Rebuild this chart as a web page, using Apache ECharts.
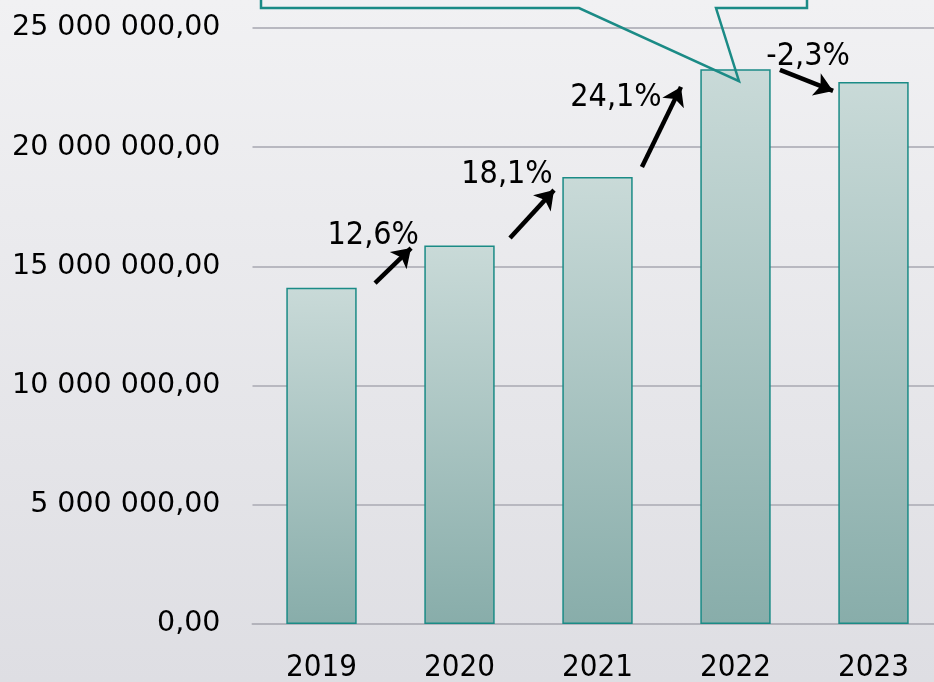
<!DOCTYPE html>
<html>
<head>
<meta charset="utf-8">
<script src="https://cdn.jsdelivr.net/npm/echarts@6/dist/echarts.min.js"></script>
<style>
  html, body { margin: 0; padding: 0; }
  #chart { width: 934px; height: 682px; }
</style>
</head>
<body>
<div id="chart"></div>
<script>
// data
const years = ['2019', '2020', '2021', '2022', '2023']
const revenue = [14100000, 15880000, 18750000, 23270000, 22730000]
const yTicks = { min: 0, max: 25000000, interval: 5000000 }

// growth arrows: [x (category index), value] start -> end
const arrowStart = [[0.388, 14300000], [1.366, 16190000], [2.322, 19170000], [3.322, 23240000]]
const arrowEnd = [[0.649, 15770000], [1.685, 18200000], [2.605, 22530000], [3.707, 22360000]]
const growthText = ['12,6%', '18,1%', '24,1%', '-2,3%']
const growthPos = [[0.375, 16300000], [1.344, 18830000], [2.134, 22060000], [3.526, 23780000]]

const narrow = '"DejaVu Sans Condensed", sans-serif'

function fmt(v) {
  const s = Math.round(v).toString().replace(/\B(?=(\d{3})+(?!\d))/g, ' ')
  return s + ',00'
}

const myChart = echarts.init(document.getElementById('chart'))
myChart.setOption({
  backgroundColor: new echarts.graphic.LinearGradient(0, 0, 0, 1, [
    { offset: 0, color: '#f1f1f3' },
    { offset: 1, color: '#dedee3' }
  ]),
  animation: false,
  grid: { left: 252.5, right: -8.5, top: 28, bottom: 58, outerBoundsMode: 'none' },
  xAxis: [
    {
      type: 'category',
      data: years,
      axisTick: { show: false },
      axisLine: { lineStyle: { color: '#b3b3bb', width: 2 } },
      axisLabel: { color: '#000', fontSize: 31, fontFamily: narrow, margin: 28 }
    },
    { type: 'value', min: -0.5, max: 4.5, show: false }
  ],
  yAxis: {
    type: 'value',
    min: yTicks.min,
    max: yTicks.max,
    interval: yTicks.interval,
    axisLine: { show: false },
    axisTick: { show: false },
    axisLabel: {
      color: '#000',
      fontSize: 28.5,
      fontFamily: '"DejaVu Sans", Verdana, sans-serif',
      margin: 32,
      formatter: fmt
    },
    splitLine: { lineStyle: { color: '#b8b8c0', width: 2 } }
  },
  series: [
    {
      type: 'bar',
      data: revenue,
      barWidth: '51%',
      itemStyle: {
        color: new echarts.graphic.LinearGradient(0, 0, 0, 1, [
          { offset: 0, color: '#c9dad8' },
          { offset: 1, color: '#88adaa' }
        ]),
        borderColor: '#1b8b86',
        borderWidth: 1.5
      }
    },
    {
      type: 'lines',
      coordinateSystem: 'cartesian2d',
      xAxisIndex: 1,
      symbol: ['none', 'arrow'],
      symbolSize: [0, 18],
      lineStyle: { color: '#000', width: 4.5, opacity: 1, curveness: 0 },
      data: arrowStart.map((s, i) => ({ coords: [s, arrowEnd[i]] })),
      z: 5
    },
    {
      type: 'scatter',
      xAxisIndex: 1,
      symbolSize: 1,
      itemStyle: { color: 'transparent', opacity: 1 },
      label: {
        show: true,
        position: 'inside',
        color: '#000',
        fontSize: 32,
        fontFamily: narrow,
        formatter: p => growthText[p.dataIndex]
      },
      data: growthPos,
      z: 6
    }
  ]
})

// callout box pointing at the 2022 bar
const tip = myChart.convertToPixel({ seriesIndex: 0 }, [3, revenue[3]])
const tx = tip[0] + 3.5
const ty = tip[1] + 12
myChart.setOption({
  graphic: [
    {
      type: 'polyline',
      shape: {
        points: [[261, -60], [261, 8], [579, 8], [tx, ty], [716, 8], [807, 8], [807, -60]]
      },
      style: { stroke: '#1b8b86', lineWidth: 2.5, fill: null },
      z: 10
    }
  ]
})
</script>
</body>
</html>
